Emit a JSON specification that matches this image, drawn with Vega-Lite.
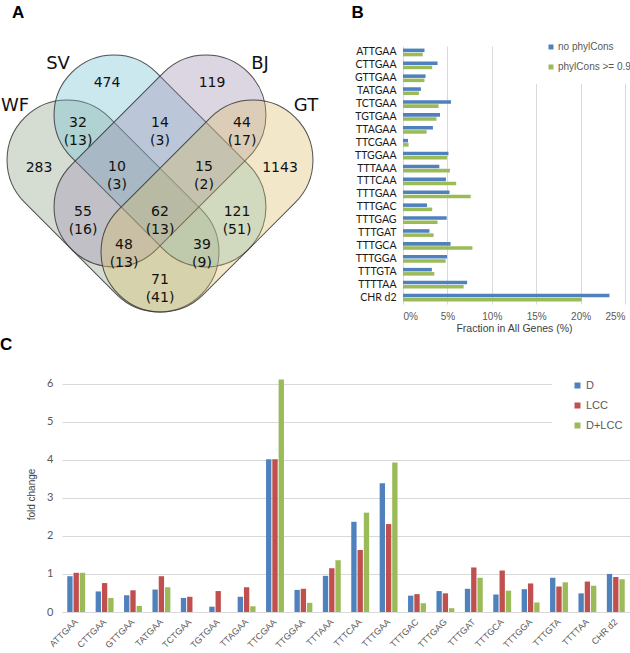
{
  "$schema": "https://vega.github.io/schema/vega-lite/v6.json",
  "padding": {"left": 0, "top": 4, "right": 0, "bottom": 0},
  "background": "white",
  "config": {
    "view": {"stroke": null},
    "font": "Liberation Sans",
    "title": {"font": "Liberation Sans", "fontSize": 17, "fontWeight": "bold", "color": "#000000", "anchor": "start"}
  },
  "datasets": {
    "vennSets": [
      {"set": "WF", "cx": 113, "cy": 205},
      {"set": "SV", "cx": 160, "cy": 160},
      {"set": "BJ", "cx": 160, "cy": 160},
      {"set": "GT", "cx": 207, "cy": 205}
    ],
    "vennCounts": [
      {"label": "474", "x": 107, "y": 82},
      {"label": "119", "x": 212, "y": 82},
      {"label": "32\n(13)", "x": 78, "y": 122},
      {"label": "14\n(3)", "x": 160, "y": 122},
      {"label": "44\n(17)", "x": 242, "y": 122},
      {"label": "283", "x": 39, "y": 167},
      {"label": "10\n(3)", "x": 117, "y": 166},
      {"label": "15\n(2)", "x": 204, "y": 166},
      {"label": "1143", "x": 280, "y": 167},
      {"label": "55\n(16)", "x": 83, "y": 211},
      {"label": "62\n(13)", "x": 160, "y": 211},
      {"label": "121\n(51)", "x": 237, "y": 211},
      {"label": "48\n(13)", "x": 124, "y": 244},
      {"label": "39\n(9)", "x": 202, "y": 244},
      {"label": "71\n(41)", "x": 160, "y": 279}
    ],
    "vennNames": [
      {"name": "WF", "x": 15, "y": 105},
      {"name": "SV", "x": 58, "y": 63},
      {"name": "BJ", "x": 260, "y": 63},
      {"name": "GT", "x": 306, "y": 105}
    ],
    "fraction": [
      {"motif": "ATTGAA", "series": "no phylCons", "pct": 2.42}, {"motif": "ATTGAA", "series": "phylCons >= 0.9", "pct": 2.22},
      {"motif": "CTTGAA", "series": "no phylCons", "pct": 3.89}, {"motif": "CTTGAA", "series": "phylCons >= 0.9", "pct": 3.29},
      {"motif": "GTTGAA", "series": "no phylCons", "pct": 2.54}, {"motif": "GTTGAA", "series": "phylCons >= 0.9", "pct": 2.42},
      {"motif": "TATGAA", "series": "no phylCons", "pct": 2.02}, {"motif": "TATGAA", "series": "phylCons >= 0.9", "pct": 1.79},
      {"motif": "TCTGAA", "series": "no phylCons", "pct": 5.40}, {"motif": "TCTGAA", "series": "phylCons >= 0.9", "pct": 4.01},
      {"motif": "TGTGAA", "series": "no phylCons", "pct": 4.17}, {"motif": "TGTGAA", "series": "phylCons >= 0.9", "pct": 3.77},
      {"motif": "TTAGAA", "series": "no phylCons", "pct": 3.37}, {"motif": "TTAGAA", "series": "phylCons >= 0.9", "pct": 2.66},
      {"motif": "TTCGAA", "series": "no phylCons", "pct": 0.56}, {"motif": "TTCGAA", "series": "phylCons >= 0.9", "pct": 0.63},
      {"motif": "TTGGAA", "series": "no phylCons", "pct": 5.12}, {"motif": "TTGGAA", "series": "phylCons >= 0.9", "pct": 4.96},
      {"motif": "TTTAAA", "series": "no phylCons", "pct": 4.09}, {"motif": "TTTAAA", "series": "phylCons >= 0.9", "pct": 5.28},
      {"motif": "TTTCAA", "series": "no phylCons", "pct": 4.84}, {"motif": "TTTCAA", "series": "phylCons >= 0.9", "pct": 5.99},
      {"motif": "TTTGAA", "series": "no phylCons", "pct": 5.24}, {"motif": "TTTGAA", "series": "phylCons >= 0.9", "pct": 7.62},
      {"motif": "TTTGAC", "series": "no phylCons", "pct": 2.70}, {"motif": "TTTGAC", "series": "phylCons >= 0.9", "pct": 3.29},
      {"motif": "TTTGAG", "series": "no phylCons", "pct": 4.92}, {"motif": "TTTGAG", "series": "phylCons >= 0.9", "pct": 3.89},
      {"motif": "TTTGAT", "series": "no phylCons", "pct": 2.98}, {"motif": "TTTGAT", "series": "phylCons >= 0.9", "pct": 3.45},
      {"motif": "TTTGCA", "series": "no phylCons", "pct": 5.36}, {"motif": "TTTGCA", "series": "phylCons >= 0.9", "pct": 7.82},
      {"motif": "TTTGGA", "series": "no phylCons", "pct": 4.96}, {"motif": "TTTGGA", "series": "phylCons >= 0.9", "pct": 4.80},
      {"motif": "TTTGTA", "series": "no phylCons", "pct": 3.25}, {"motif": "TTTGTA", "series": "phylCons >= 0.9", "pct": 3.53},
      {"motif": "TTTTAA", "series": "no phylCons", "pct": 7.22}, {"motif": "TTTTAA", "series": "phylCons >= 0.9", "pct": 6.83},
      {"motif": "CHR d2", "series": "no phylCons", "pct": 23.25}, {"motif": "CHR d2", "series": "phylCons >= 0.9", "pct": 20.12}
    ],
    "fold": [
      {"motif": "ATTGAA", "series": "D", "fc": 0.94}, {"motif": "ATTGAA", "series": "LCC", "fc": 1.03}, {"motif": "ATTGAA", "series": "D+LCC", "fc": 1.03},
      {"motif": "CTTGAA", "series": "D", "fc": 0.54}, {"motif": "CTTGAA", "series": "LCC", "fc": 0.76}, {"motif": "CTTGAA", "series": "D+LCC", "fc": 0.37},
      {"motif": "GTTGAA", "series": "D", "fc": 0.44}, {"motif": "GTTGAA", "series": "LCC", "fc": 0.57}, {"motif": "GTTGAA", "series": "D+LCC", "fc": 0.16},
      {"motif": "TATGAA", "series": "D", "fc": 0.59}, {"motif": "TATGAA", "series": "LCC", "fc": 0.94}, {"motif": "TATGAA", "series": "D+LCC", "fc": 0.65},
      {"motif": "TCTGAA", "series": "D", "fc": 0.37}, {"motif": "TCTGAA", "series": "LCC", "fc": 0.40}, {"motif": "TCTGAA", "series": "D+LCC", "fc": 0},
      {"motif": "TGTGAA", "series": "D", "fc": 0.14}, {"motif": "TGTGAA", "series": "LCC", "fc": 0.55}, {"motif": "TGTGAA", "series": "D+LCC", "fc": 0},
      {"motif": "TTAGAA", "series": "D", "fc": 0.40}, {"motif": "TTAGAA", "series": "LCC", "fc": 0.65}, {"motif": "TTAGAA", "series": "D+LCC", "fc": 0.15},
      {"motif": "TTCGAA", "series": "D", "fc": 4.01}, {"motif": "TTCGAA", "series": "LCC", "fc": 4.01}, {"motif": "TTCGAA", "series": "D+LCC", "fc": 6.11},
      {"motif": "TTGGAA", "series": "D", "fc": 0.58}, {"motif": "TTGGAA", "series": "LCC", "fc": 0.61}, {"motif": "TTGGAA", "series": "D+LCC", "fc": 0.24},
      {"motif": "TTTAAA", "series": "D", "fc": 0.95}, {"motif": "TTTAAA", "series": "LCC", "fc": 1.15}, {"motif": "TTTAAA", "series": "D+LCC", "fc": 1.36},
      {"motif": "TTTCAA", "series": "D", "fc": 2.37}, {"motif": "TTTCAA", "series": "LCC", "fc": 1.63}, {"motif": "TTTCAA", "series": "D+LCC", "fc": 2.61},
      {"motif": "TTTGAA", "series": "D", "fc": 3.38}, {"motif": "TTTGAA", "series": "LCC", "fc": 2.31}, {"motif": "TTTGAA", "series": "D+LCC", "fc": 3.93},
      {"motif": "TTTGAC", "series": "D", "fc": 0.43}, {"motif": "TTTGAC", "series": "LCC", "fc": 0.47}, {"motif": "TTTGAC", "series": "D+LCC", "fc": 0.23},
      {"motif": "TTTGAG", "series": "D", "fc": 0.55}, {"motif": "TTTGAG", "series": "LCC", "fc": 0.49}, {"motif": "TTTGAG", "series": "D+LCC", "fc": 0.10},
      {"motif": "TTTGAT", "series": "D", "fc": 0.61}, {"motif": "TTTGAT", "series": "LCC", "fc": 1.17}, {"motif": "TTTGAT", "series": "D+LCC", "fc": 0.90},
      {"motif": "TTTGCA", "series": "D", "fc": 0.46}, {"motif": "TTTGCA", "series": "LCC", "fc": 1.09}, {"motif": "TTTGCA", "series": "D+LCC", "fc": 0.56},
      {"motif": "TTTGGA", "series": "D", "fc": 0.60}, {"motif": "TTTGGA", "series": "LCC", "fc": 0.75}, {"motif": "TTTGGA", "series": "D+LCC", "fc": 0.25},
      {"motif": "TTTGTA", "series": "D", "fc": 0.90}, {"motif": "TTTGTA", "series": "LCC", "fc": 0.67}, {"motif": "TTTGTA", "series": "D+LCC", "fc": 0.78},
      {"motif": "TTTTAA", "series": "D", "fc": 0.49}, {"motif": "TTTTAA", "series": "LCC", "fc": 0.80}, {"motif": "TTTTAA", "series": "D+LCC", "fc": 0.69},
      {"motif": "CHR d2", "series": "D", "fc": 1.00}, {"motif": "CHR d2", "series": "LCC", "fc": 0.92}, {"motif": "CHR d2", "series": "D+LCC", "fc": 0.86}
    ]
  },
  "columns": 1,
  "spacing": 2,
  "resolve": {"scale": {"color": "independent"}, "legend": {"color": "independent"}},
  "concat": [
    {
      "spacing": 31,
      "resolve": {"scale": {"color": "independent", "fill": "independent"}, "legend": {"color": "independent"}},
      "hconcat": [
        {
          "width": 258,
          "height": 288,
          "title": {"text": "A", "offset": 24, "frame": "group", "dx": -50},
          "layer": [
            {
              "data": {"name": "vennSets"},
              "transform": [{"filter": {"field": "set", "oneOf": ["WF", "SV"]}}],
              "mark": {"type": "point", "shape": "M-0.52,-0.48L0.52,-0.48A0.48,0.48,0,0,1,0.52,0.48L-0.52,0.48A0.48,0.48,0,0,1,-0.52,-0.48Z", "size": 62500, "angle": 45, "filled": true, "opacity": 1, "fillOpacity": 0.35, "stroke": "#333333", "strokeWidth": 1, "strokeOpacity": 0.85},
              "encoding": {
                "x": {"field": "cx", "type": "quantitative", "scale": {"domain": [62, 320], "nice": false, "zero": false}, "axis": null},
                "y": {"field": "cy", "type": "quantitative", "scale": {"domain": [45, 333], "nice": false, "zero": false, "reverse": true}, "axis": null},
                "fill": {"field": "set", "type": "nominal", "scale": {"domain": ["WF", "SV", "BJ", "GT"], "range": ["#879e81", "#6dbdd1", "#9b8aaf", "#dabd65"]}, "legend": null}
              }
            },
            {
              "data": {"name": "vennSets"},
              "transform": [{"filter": {"field": "set", "oneOf": ["BJ", "GT"]}}],
              "mark": {"type": "point", "shape": "M-0.52,-0.48L0.52,-0.48A0.48,0.48,0,0,1,0.52,0.48L-0.52,0.48A0.48,0.48,0,0,1,-0.52,-0.48Z", "size": 62500, "angle": -45, "filled": true, "opacity": 1, "fillOpacity": 0.35, "stroke": "#333333", "strokeWidth": 1, "strokeOpacity": 0.85},
              "encoding": {
                "x": {"field": "cx", "type": "quantitative"},
                "y": {"field": "cy", "type": "quantitative"},
                "fill": {"field": "set", "type": "nominal", "legend": null}
              }
            },
            {
              "data": {"name": "vennCounts"},
              "mark": {"type": "text", "font": "DejaVu Sans", "fontSize": 14, "lineBreak": "\n", "lineHeight": 18, "color": "#111111"},
              "encoding": {
                "x": {"field": "x", "type": "quantitative"},
                "y": {"field": "y", "type": "quantitative"},
                "text": {"field": "label"}
              }
            },
            {
              "data": {"name": "vennNames"},
              "mark": {"type": "text", "font": "DejaVu Sans", "fontSize": 18, "color": "#111111"},
              "encoding": {
                "x": {"field": "x", "type": "quantitative"},
                "y": {"field": "y", "type": "quantitative"},
                "text": {"field": "name"}
              }
            }
          ]
        },
        {
          "width": 222,
          "height": 258,
          "title": {"text": "B", "offset": 8, "dx": -3},
          "data": {"name": "fraction"},
          "mark": {"type": "bar"},
          "encoding": {
            "y": {
              "field": "motif", "type": "nominal",
              "sort": ["ATTGAA", "CTTGAA", "GTTGAA", "TATGAA", "TCTGAA", "TGTGAA", "TTAGAA", "TTCGAA", "TTGGAA", "TTTAAA", "TTTCAA", "TTTGAA", "TTTGAC", "TTTGAG", "TTTGAT", "TTTGCA", "TTTGGA", "TTTGTA", "TTTTAA", "CHR d2"],
              "scale": {"paddingInner": 0.4, "paddingOuter": 0.2},
              "axis": {"title": null, "ticks": false, "domain": false, "labelFont": "Lato", "labelFontSize": 10.5, "labelColor": "#1a1a1a", "labelPadding": 7, "labelOverlap": false}
            },
            "yOffset": {"field": "series", "type": "nominal", "sort": ["no phylCons", "phylCons >= 0.9"], "scale": {"paddingInner": 0.15}},
            "x": {
              "field": "pct", "type": "quantitative",
              "scale": {"domain": [0, 25], "nice": false},
              "axis": {"values": [0, 5, 10, 15, 20, 25], "labelExpr": "datum.value + '%'", "title": "Fraction in All Genes (%)", "grid": true, "gridColor": "#d9d9d9", "domain": false, "ticks": false, "labelFont": "Liberation Sans", "labelFontSize": 10, "labelColor": "#595959", "labelPadding": 7, "titleFont": "Liberation Sans", "titleFontSize": 10.5, "titleFontWeight": "normal", "titleColor": "#404040", "titlePadding": 2}
            },
            "color": {
              "field": "series", "type": "nominal",
              "scale": {"domain": ["no phylCons", "phylCons >= 0.9"], "range": ["#4f81bd", "#9bbb59"]},
              "legend": {"title": null, "orient": "none", "legendX": 131, "legendY": -16, "padding": 12, "fillColor": "white", "symbolType": "square", "symbolSize": 25, "labelFont": "Liberation Sans", "labelFontSize": 10, "labelColor": "#595959", "labelOffset": 2, "rowPadding": 10}
            }
          }
        }
      ]
    },
    {
      "width": 568,
      "height": 236,
      "title": {"text": "C", "offset": 6, "frame": "group", "dx": -62},
      "data": {"name": "fold"},
      "mark": {"type": "bar"},
      "encoding": {
        "x": {
          "field": "motif", "type": "nominal",
          "sort": ["ATTGAA", "CTTGAA", "GTTGAA", "TATGAA", "TCTGAA", "TGTGAA", "TTAGAA", "TTCGAA", "TTGGAA", "TTTAAA", "TTTCAA", "TTTGAA", "TTTGAC", "TTTGAG", "TTTGAT", "TTTGCA", "TTTGGA", "TTTGTA", "TTTTAA", "CHR d2"],
          "scale": {"paddingInner": 0.37, "paddingOuter": 0.185},
          "axis": {"title": null, "labelAngle": -45, "labelAlign": "right", "labelBaseline": "middle", "labelFont": "Liberation Sans", "labelFontSize": 9, "labelColor": "#595959", "ticks": false, "domainColor": "#d9d9d9", "labelPadding": 8, "labelOverlap": false}
        },
        "xOffset": {"field": "series", "type": "nominal", "sort": ["D", "LCC", "D+LCC"], "scale": {"paddingInner": 0.15}},
        "y": {
          "field": "fc", "type": "quantitative",
          "scale": {"domain": [0, 6.2], "nice": false},
          "axis": {"title": "fold change", "values": [0, 1, 2, 3, 4, 5, 6], "grid": true, "gridColor": "#d9d9d9", "domain": false, "ticks": false, "labelFont": "Lato", "labelFontSize": 11, "labelColor": "#595959", "labelPadding": 9, "titleFont": "Liberation Sans", "titleFontSize": 10, "titleFontWeight": "normal", "titleColor": "#404040", "titlePadding": 10}
        },
        "color": {
          "field": "series", "type": "nominal",
          "scale": {"domain": ["D", "LCC", "D+LCC"], "range": ["#4f81bd", "#c0504d", "#9bbb59"]},
          "legend": {"title": null, "orient": "none", "legendX": 490, "legendY": -16, "padding": 20, "fillColor": "white", "symbolType": "square", "symbolSize": 36, "labelFont": "Liberation Sans", "labelFontSize": 11, "labelColor": "#595959", "labelOffset": 3, "rowPadding": 8}
        }
      }
    }
  ]
}
